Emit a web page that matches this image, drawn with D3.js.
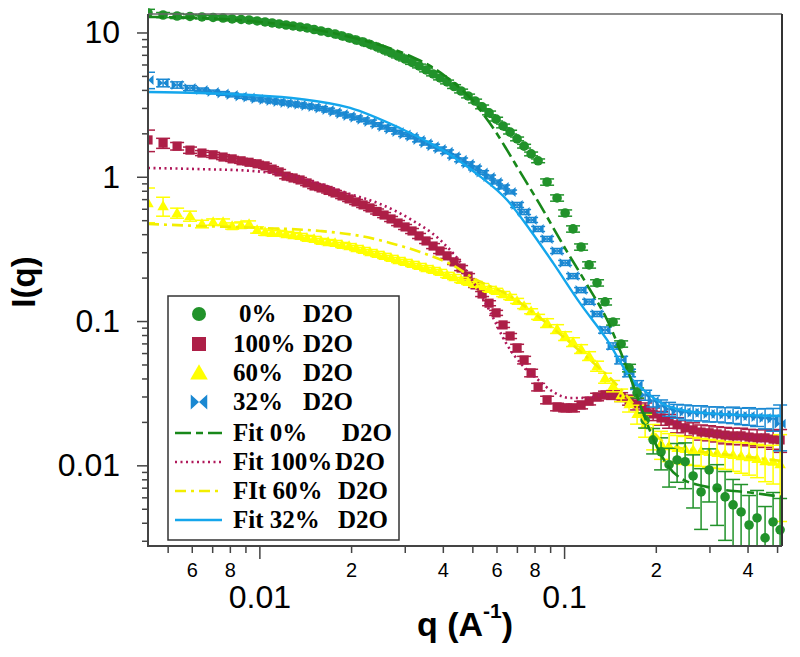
<!DOCTYPE html>
<html><head><meta charset="utf-8">
<script src="https://cdn.jsdelivr.net/npm/d3@7"></script>
<style>body{margin:0;background:#fff}</style>
</head><body>
<svg id="chart" width="800" height="657"></svg>
<script>
// ---------- data ----------
const qValues = [0.00431,0.00483,0.00537,0.00592,0.00648,0.00705,0.00760,0.00814,0.00871,0.00925,
0.00983,0.01044,0.01101,0.01161,0.01224,0.01290,0.01360,0.01434,0.01512,0.01594,
0.01681,0.01772,0.01868,0.01970,0.02077,0.02190,0.02308,0.02434,0.02566,0.02705,
0.02852,0.03007,0.03170,0.03342,0.03524,0.03716,0.03917,0.04130,0.04355,0.04592,
0.04841,0.05104,0.05382,0.05673,0.05982,0.06307,0.06650,0.07011,0.07392,0.07794,
0.08218,0.08795,0.09484,0.1008,0.1070,0.1137,0.1208,0.1283,0.1363,0.1448,
0.1539,0.1634,0.1736,0.1845,0.1960,0.2081,0.2211,0.2349,0.2496,0.2651,
0.2816,0.2992,0.3178,0.3376,0.3586,0.3810,0.4047,0.4299,0.4567,0.4852,0.5116];

const I_0 = [13.65,13.22,13.01,12.91,12.81,12.71,12.60,12.41,12.31,12.21,
12.02,11.83,11.64,11.46,11.27,11.10,10.92,10.75,10.49,10.24,
10.0,9.76,9.46,9.16,8.87,8.59,8.26,7.93,7.56,7.21,
6.87,6.55,6.20,5.86,5.50,5.16,4.84,4.54,4.22,3.93,
3.63,3.35,3.05,2.77,2.51,2.25,2.04,1.83,1.63,1.44,
1.29,0.920,0.713,0.561,0.435,0.326,0.245,0.184,0.136,0.0986,
0.0694,0.0473,0.0318,0.0206,0.0150,0.0124,0.0101,0.0109,0.0106,0.00844,
0.00654,0.00929,0.00697,0.00604,0.00532,0.00475,0.00386,0.00432,0.00314,0.00405,0.00357];
const err_0 = [0.06,0.04,0.04,0.03,0.03,0.03,0.03,0.03,0.03,0.03,
0.03,0.03,0.03,0.03,0.03,0.03,0.03,0.03,0.03,0.03,
0.03,0.03,0.03,0.03,0.03,0.03,0.03,0.03,0.03,0.03,
0.03,0.03,0.03,0.03,0.03,0.03,0.03,0.03,0.03,0.03,
0.03,0.03,0.03,0.03,0.03,0.03,0.03,0.03,0.03,0.03,
0.03,0.05,0.05,0.05,0.05,0.05,0.05,0.05,0.05,0.05,
0.05,0.06,0.08,0.12,0.2,0.25,0.3,0.3,0.35,0.4,
0.45,0.4,0.45,0.5,0.5,0.55,0.6,0.55,0.65,0.6,0.65];

const I_100 = [1.80,1.71,1.63,1.53,1.46,1.42,1.37,1.33,1.29,1.26,
1.23,1.19,1.13,1.08,1.01,0.981,0.950,0.906,0.863,0.836,
0.804,0.772,0.736,0.702,0.669,0.638,0.608,0.575,0.543,0.510,
0.478,0.449,0.421,0.389,0.359,0.331,0.306,0.283,0.257,0.233,
0.205,0.178,0.154,0.133,0.114,0.0940,0.0788,0.0651,0.0537,0.0437,
0.0349,0.0284,0.0254,0.0250,0.0250,0.0262,0.0279,0.0298,0.0308,0.0308,
0.0298,0.0284,0.0266,0.0246,0.0227,0.0213,0.0203,0.0191,0.0182,0.0176,
0.0170,0.0168,0.0165,0.0162,0.0160,0.0160,0.0157,0.0155,0.0155,0.0152,0.0150];
const err_100 = [0.17,0.08,0.06,0.05,0.04,0.04,0.04,0.04,0.04,0.04,
0.04,0.04,0.04,0.04,0.04,0.04,0.04,0.04,0.04,0.04,
0.04,0.04,0.04,0.04,0.04,0.04,0.04,0.04,0.04,0.04,
0.04,0.04,0.04,0.04,0.04,0.04,0.04,0.04,0.04,0.04,
0.04,0.04,0.04,0.04,0.04,0.04,0.04,0.06,0.06,0.06,
0.06,0.06,0.06,0.06,0.06,0.06,0.06,0.06,0.06,0.07,
0.07,0.08,0.09,0.1,0.1,0.11,0.11,0.12,0.12,0.12,
0.12,0.12,0.12,0.13,0.13,0.13,0.13,0.14,0.14,0.15,0.18];

const I_60 = [0.658,0.627,0.561,0.535,0.471,0.486,0.486,0.456,0.463,0.471,
0.428,0.414,0.408,0.408,0.401,0.395,0.389,0.377,0.371,0.359,
0.353,0.348,0.337,0.331,0.321,0.311,0.301,0.292,0.283,0.274,
0.265,0.257,0.249,0.241,0.233,0.226,0.219,0.209,0.202,0.193,
0.187,0.181,0.175,0.167,0.162,0.154,0.147,0.138,0.127,0.117,
0.107,0.0970,0.0882,0.0788,0.0716,0.0641,0.0573,0.0488,0.0403,0.0355,
0.0307,0.0266,0.0227,0.0191,0.0160,0.0141,0.0136,0.0132,0.0130,0.0128,
0.0126,0.0124,0.0122,0.0120,0.0118,0.0116,0.0114,0.0111,0.0107,0.0106,0.0102];
const err_60 = [0.27,0.15,0.08,0.08,0.06,0.05,0.05,0.05,0.05,0.05,
0.05,0.05,0.04,0.04,0.04,0.04,0.04,0.04,0.04,0.04,
0.04,0.04,0.04,0.04,0.04,0.04,0.04,0.04,0.04,0.04,
0.04,0.04,0.04,0.04,0.04,0.04,0.04,0.04,0.04,0.04,
0.04,0.04,0.04,0.04,0.04,0.04,0.04,0.04,0.04,0.04,
0.04,0.07,0.07,0.07,0.07,0.07,0.07,0.08,0.08,0.09,
0.1,0.12,0.15,0.18,0.2,0.22,0.22,0.22,0.22,0.22,
0.22,0.22,0.22,0.22,0.23,0.24,0.25,0.26,0.28,0.3,0.6];

const I_32 = [4.69,4.47,4.33,4.12,4.00,3.87,3.78,3.69,3.60,3.54,
3.46,3.41,3.35,3.30,3.25,3.20,3.15,3.09,3.05,2.97,
2.90,2.81,2.72,2.64,2.56,2.48,2.40,2.30,2.21,2.13,
2.04,1.96,1.89,1.80,1.71,1.63,1.56,1.49,1.39,1.31,
1.23,1.15,1.07,0.997,0.920,0.850,0.785,0.638,0.570,0.502,
0.435,0.371,0.306,0.253,0.205,0.164,0.136,0.112,0.0867,0.0672,
0.0537,0.0437,0.0361,0.0307,0.0279,0.0258,0.0246,0.0238,0.0234,0.0231,
0.0231,0.0227,0.0227,0.0224,0.0224,0.0220,0.0220,0.0216,0.0213,0.0210,0.0194];
const err_32 = [0.13,0.06,0.05,0.04,0.03,0.03,0.03,0.03,0.03,0.03,
0.03,0.03,0.03,0.03,0.03,0.03,0.03,0.03,0.03,0.03,
0.03,0.03,0.03,0.03,0.03,0.03,0.03,0.03,0.03,0.03,
0.03,0.03,0.03,0.03,0.03,0.03,0.03,0.03,0.03,0.03,
0.03,0.03,0.03,0.03,0.03,0.03,0.03,0.04,0.04,0.04,
0.04,0.04,0.04,0.04,0.04,0.04,0.04,0.04,0.05,0.05,
0.06,0.06,0.07,0.08,0.09,0.1,0.11,0.11,0.12,0.12,
0.12,0.12,0.12,0.12,0.13,0.13,0.14,0.14,0.16,0.18,0.35];

// fitted curves
const qFit_0 = [0.00431,0.00639,0.00932,0.0136,0.01985,0.02489,0.03123,0.03634,0.04069,0.04557,0.04990,0.05424,0.05937,0.06501,0.07172,0.08342,0.09925,0.1190,0.1384,0.1647,0.1817,0.1990,0.2178,0.2403,0.2947,0.4172,0.5195];
const IFit_0 = [12.81,12.60,12.02,10.92,9.31,8.19,6.87,5.86,4.99,4.12,3.41,2.72,2.08,1.53,1.08,0.638,0.337,0.178,0.102,0.0410,0.0231,0.0143,0.0101,0.00818,0.00709,0.00644,0.00604];
const qFit_100 = [0.00431,0.00639,0.00932,0.0136,0.01985,0.02489,0.03123,0.03917,0.04557,0.05104,0.05716,0.06501,0.07282,0.08155,0.09203,0.1046,0.1190,0.1343,0.1527,0.1736,0.2066,0.2591,0.3251,0.4077,0.5195];
const IFit_100 = [1.15,1.13,1.10,0.981,0.760,0.648,0.510,0.365,0.257,0.178,0.116,0.0683,0.0496,0.0397,0.0323,0.0293,0.0293,0.0308,0.0303,0.0271,0.0220,0.0182,0.0165,0.0157,0.0150];
const qFit_60 = [0.00431,0.00639,0.01005,0.01582,0.02141,0.02685,0.03369,0.04225,0.05166,0.06650,0.08342,0.1023,0.1217,0.1416,0.1647,0.1915,0.2145,0.2591,0.3251,0.4077,0.5195];
const IFit_60 = [0.471,0.456,0.442,0.421,0.389,0.348,0.301,0.249,0.193,0.149,0.105,0.0740,0.0537,0.0403,0.0284,0.0182,0.0143,0.0128,0.0120,0.0114,0.0107];
const qFit_32 = [0.00431,0.00639,0.00932,0.0136,0.01985,0.02896,0.03634,0.04387,0.05166,0.06501,0.07735,0.09203,0.1128,0.1384,0.1647,0.1873,0.2113,0.2533,0.3251,0.5195];
const IFit_32 = [3.87,3.81,3.69,3.46,3.00,2.17,1.71,1.35,1.05,0.690,0.428,0.253,0.133,0.0740,0.0410,0.0318,0.0266,0.0238,0.0227,0.0220];

const legendNames = ["0%", "100%", "60%", "32%", "Fit 0%", "Fit 100%", "FIt 60%", "Fit 32%"];
const legendSuffix = "D2O";
const yTickValues = [10, 1, 0.1, 0.01];
const yTickLabels = ["10", "1", "0.1", "0.01"];
const xMajorValues = [0.01, 0.1];
const xMajorLabels = ["0.01", "0.1"];
const xMinorLabelled = [0.006, 0.008, 0.02, 0.04, 0.06, 0.08, 0.2, 0.4];
const xMinorLabels = ["6", "8", "2", "4", "6", "8", "2", "4"];

// ---------- layout ----------
const L = 148, R = 782, T = 14, B = 546;
const svg = d3.select('#chart');
const x = d3.scaleLog().domain([0.00431, 0.519]).range([L, R]);
const y = d3.scaleLog().domain([0.00276, 13.43]).range([B, T]);

svg.append('defs').append('clipPath').attr('id', 'clip')
  .append('rect').attr('x', L).attr('y', T - 6).attr('width', R - L + 6).attr('height', B - T + 6);

const axisColor = '#444';
const numFont = "'Liberation Sans', Arial, sans-serif";

const yMinor = [];
for (let e = -3; e <= 1; e++) for (let k = 2; k <= 9; k++) {
  const v = k * Math.pow(10, e);
  if (v >= 0.00276 && v <= 13.43) yMinor.push(v);
}
const xMinor = [];
for (let e = -3; e <= -1; e++) for (let k = 2; k <= 9; k++) {
  const v = k * Math.pow(10, e);
  if (v >= 0.00431 && v <= 0.519) xMinor.push(v);
}

function styleAxis(g) {
  g.select('.domain').remove();
  g.selectAll('.tick line').attr('stroke', axisColor).attr('stroke-width', 1.5);
  g.selectAll('.tick text').attr('fill', '#000').attr('font-family', numFont);
}

svg.append('g').attr('transform', `translate(${L},0)`)
  .call(d3.axisLeft(y).tickValues(yMinor).tickSize(6).tickFormat(''))
  .call(styleAxis);
svg.append('g').attr('transform', `translate(${L},0)`)
  .call(d3.axisLeft(y).tickValues(yTickValues).tickSize(11).tickPadding(17)
    .tickFormat((d, i) => yTickLabels[i]))
  .call(styleAxis)
  .call(g => g.selectAll('.tick text').attr('font-size', 32));

svg.append('g').attr('transform', `translate(0,${B})`)
  .call(d3.axisBottom(x).tickValues(xMinor).tickSize(7).tickPadding(10)
    .tickFormat(d => { const i = xMinorLabelled.findIndex(v => Math.abs(v - d) / v < 1e-6); return i >= 0 ? xMinorLabels[i] : ''; }))
  .call(styleAxis)
  .call(g => g.selectAll('.tick text').attr('font-size', 20));
svg.append('g').attr('transform', `translate(0,${B})`)
  .call(d3.axisBottom(x).tickValues(xMajorValues).tickSize(13).tickPadding(26)
    .tickFormat((d, i) => xMajorLabels[i]))
  .call(styleAxis)
  .call(g => g.selectAll('.tick text').attr('font-size', 32));

// axis titles
svg.append('text').attr('transform', 'translate(35,282) rotate(-90)')
  .attr('text-anchor', 'middle').attr('font-family', numFont).attr('font-weight', 'bold')
  .attr('font-size', 33).text('I(q)');
const xt = svg.append('text').attr('x', 417).attr('y', 636)
  .attr('font-family', numFont).attr('font-weight', 'bold').attr('font-size', 34);
xt.append('tspan').text('q (A');
xt.append('tspan').attr('font-size', 21).attr('dy', -18).text('-1');
xt.append('tspan').attr('dy', 18).text(')');

// ---------- markers ----------
const colors = { g: '#21922a', r: '#ad1f47', yel: '#ffff00', b: '#1a88d2' };
function markerPath(shape, s) {
  if (shape === 'circle') return d3.symbol(d3.symbolCircle, Math.PI * s * s)();
  if (shape === 'square') return `M${-s},${-s}h${2 * s}v${2 * s}h${-2 * s}Z`;
  if (shape === 'triangle') return `M0,${-s * 1.1}L${s * 1.1},${s * 0.8}L${-s * 1.1},${s * 0.8}Z`;
  if (shape === 'bowtie') return `M${-s * 1.1},${-s}L0,0L${-s * 1.1},${s}Z M${s * 1.1},${-s}L0,0L${s * 1.1},${s}Z`;
}

const dataSeries = [
  { I: I_100, err: err_100, color: colors.r, shape: 'square', size: 4.6 },
  { I: I_60, err: err_60, color: colors.yel, shape: 'triangle', size: 5.2 },
  { I: I_32, err: err_32, color: colors.b, shape: 'bowtie', size: 5 },
  { I: I_0, err: err_0, color: colors.g, shape: 'circle', size: 4.8 }
];

const plot = svg.append('g').attr('clip-path', 'url(#clip)');
dataSeries.forEach(s => {
  const pts = qValues.map((q, i) => ({ q, I: s.I[i], e: s.err[i] })).filter(d => d.I != null);
  const gs = plot.append('g');
  const eb = gs.append('g').attr('stroke', s.color).attr('stroke-width', 1.5);
  pts.forEach(d => {
    const cx = x(d.q), y1 = y(d.I * (1 + d.e)), y2 = y(Math.max(d.I * (1 - d.e), 1e-4));
    eb.append('line').attr('x1', cx).attr('x2', cx).attr('y1', y1).attr('y2', y2);
    eb.append('line').attr('x1', cx - 7).attr('x2', cx + 7).attr('y1', y1).attr('y2', y1);
    eb.append('line').attr('x1', cx - 7).attr('x2', cx + 7).attr('y1', y2).attr('y2', y2);
  });
  gs.append('g').selectAll('path').data(pts).join('path')
    .attr('d', markerPath(s.shape, s.size))
    .attr('transform', d => `translate(${x(d.q)},${y(d.I)})`)
    .attr('fill', s.color);
});

// ---------- fits ----------
const fitSeries = [
  { q: qFit_100, I: IFit_100, color: '#b0185a', dash: '2,3.5', w: 2.6 },
  { q: qFit_60, I: IFit_60, color: '#f2ee00', dash: '11,5,3,5', w: 2.6 },
  { q: qFit_32, I: IFit_32, color: '#14a6ec', dash: null, w: 2.4 },
  { q: qFit_0, I: IFit_0, color: '#18881a', dash: '16,5,7,5', w: 2.6 }
];
const line = d3.line().x(d => x(d[0])).y(d => y(d[1])).curve(d3.curveMonotoneX);
fitSeries.forEach(f => {
  plot.append('path').datum(f.q.map((q, i) => [q, f.I[i]]))
    .attr('d', line).attr('fill', 'none').attr('stroke', f.color)
    .attr('stroke-width', f.w).attr('stroke-dasharray', f.dash);
});

// frame
svg.append('line').attr('x1', L).attr('x2', R).attr('y1', T).attr('y2', T).attr('stroke', '#666').attr('stroke-width', 1.5);
svg.append('line').attr('x1', R).attr('x2', R).attr('y1', T).attr('y2', B).attr('stroke', '#333').attr('stroke-width', 2);
svg.append('line').attr('x1', L).attr('x2', L).attr('y1', T).attr('y2', B + 1).attr('stroke', axisColor).attr('stroke-width', 2);
svg.append('line').attr('x1', L - 1).attr('x2', R).attr('y1', B).attr('y2', B).attr('stroke', axisColor).attr('stroke-width', 2);

// ---------- legend ----------
const lg = svg.append('g');
lg.append('rect').attr('x', 168).attr('y', 296).attr('width', 231).attr('height', 244)
  .attr('fill', '#fff').attr('stroke', '#333').attr('stroke-width', 1.5);
const rowY = [314, 344, 373, 402, 433, 462, 491, 520];
const legSym = [
  { shape: 'circle', color: colors.g, size: 7 },
  { shape: 'square', color: colors.r, size: 7 },
  { shape: 'triangle', color: colors.yel, size: 8 },
  { shape: 'bowtie', color: colors.b, size: 7.5 }
];
legSym.forEach((s, i) => {
  lg.append('path').attr('d', markerPath(s.shape, s.size))
    .attr('transform', `translate(199,${rowY[i]})`).attr('fill', s.color);
});
const legFits = [fitSeries[3], fitSeries[0], fitSeries[1], fitSeries[2]];
legFits.forEach((f, i) => {
  lg.append('line').attr('x1', 175).attr('x2', 222).attr('y1', rowY[4 + i]).attr('y2', rowY[4 + i])
    .attr('stroke', f.color).attr('stroke-width', f.w).attr('stroke-dasharray', f.dash);
});
const nameX = [239, 233, 233, 233, 233, 233, 233, 233];
const sufX = [303, 303, 303, 303, 342, 335, 338, 338];
legendNames.forEach((n, i) => {
  const t = lg.append('text').attr('y', rowY[i] + 8)
    .attr('font-family', "'Liberation Serif', 'Times New Roman', serif")
    .attr('font-weight', 'bold').attr('font-size', 25).attr('fill', '#000');
  t.append('tspan').attr('x', nameX[i]).text(n);
  t.append('tspan').attr('x', sufX[i]).text(legendSuffix);
});
</script>
</body></html>
